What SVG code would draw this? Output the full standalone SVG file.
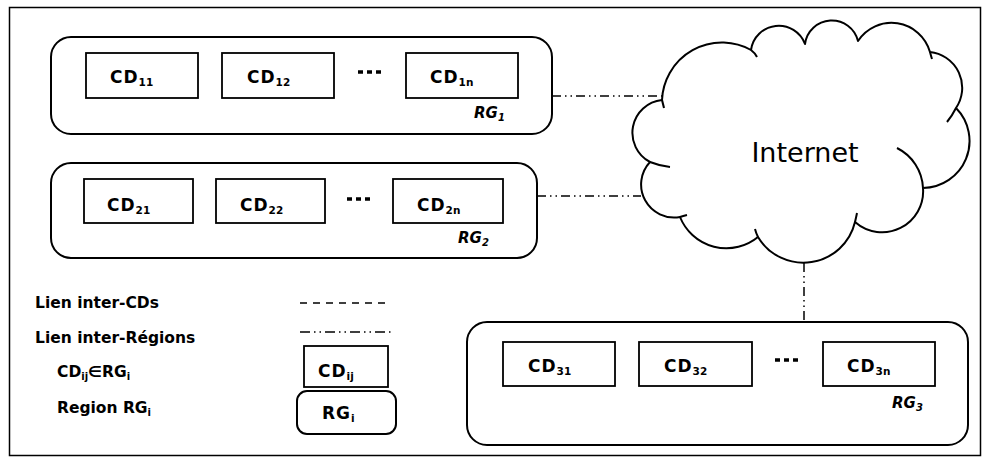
<svg xmlns="http://www.w3.org/2000/svg" width="987" height="464" viewBox="0 0 987 464">
<style>
.frame{fill:#fff;stroke:#000;stroke-width:1.5}
.rg{fill:#fff;stroke:#000;stroke-width:2}
.cd{fill:#fff;stroke:#000;stroke-width:1.8}
.t{font-family:"DejaVu Sans",Verdana,sans-serif;font-weight:bold;font-size:17px;fill:#000;letter-spacing:1px}
.sub{font-size:10.5px;letter-spacing:0}
.rgl{font-family:"DejaVu Sans",Verdana,sans-serif;font-weight:bold;font-style:italic;font-size:15px;fill:#000}
.lg{font-family:"DejaVu Sans",Verdana,sans-serif;font-weight:bold;font-size:15.5px;fill:#000}
.dash{fill:none;stroke:#000;stroke-width:1.5;stroke-dasharray:6 4}
.dd{fill:none;stroke:#000;stroke-width:1.5;stroke-dasharray:9 4 1.5 4 1.5 4}
.dots{fill:none;stroke:#000;stroke-width:3.5;stroke-dasharray:5 4}
.cloud{fill:#fff;stroke:#000;stroke-width:2;stroke-linejoin:round}
.tail{fill:none;stroke:#000;stroke-width:2}
</style>
<rect class="frame" x="9.5" y="7.5" width="971" height="448"/>

<g id="connectors">
  <path class="dd" d="M552 96 H665"/>
  <path class="dd" d="M537 196 H641"/>
  <path class="dd" d="M804 263 V322"/>
  <path class="dash" d="M135 98 V119 H454 V98 M272 98 V119"/>
  <path class="dash" d="M131 223 V245 H440 V223 M265 223 V245"/>
  <path class="dash" d="M552 386 V408 H871 V386 M689 386 V408"/>
</g>

<g id="internet">
  <path class="cloud" d="M662 100 A60 60 0 0 1 751 50 A28 28 0 0 1 805 44 A27 27 0 0 1 858 41 A40 40 0 0 1 930 52 A36 36 0 0 1 956 108 A47 47 0 0 1 923 188 A41 41 0 0 1 855 222 A53 53 0 0 1 758 237 A50 50 0 0 1 680 217 A33 33 0 0 1 650 162 A33 33 0 0 1 662 100 Z"/>
  <path class="tail" d="M897 148 A47 47 0 0 1 923 188"/>
  <path class="tail" d="M751 50 Q755 53 757 57"/>
  <path class="tail" d="M930 52 Q931 56 932 59"/>
  <path class="tail" d="M956 108 Q952 116 947 122"/>
  <path class="tail" d="M855 222 Q856 218 857 213"/>
  <path class="tail" d="M758 237 Q756 233 755 229"/>
  <path class="tail" d="M680 217 Q683 216 687 215"/>
  <path class="tail" d="M650 162 Q660 166 670 167"/>
  <path class="tail" d="M662 100 Q663 104 664 108"/>
  <text x="805" y="162" text-anchor="middle" font-family="'DejaVu Sans',Verdana,sans-serif" font-size="27" fill="#000">Internet</text>
</g>

<g id="rg1">
  <rect class="rg" x="51" y="37" width="501" height="97" rx="20"/>
  <text class="rgl" x="474" y="118">RG<tspan font-size="10" dy="3">1</tspan></text>
</g>
<g id="cd11"><rect class="cd" x="86" y="53" width="112" height="45"/><text class="t" x="110" y="83">CD<tspan class="sub" dy="3">11</tspan></text></g>
<g id="cd12"><rect class="cd" x="222" y="53" width="112" height="45"/><text class="t" x="247" y="83">CD<tspan class="sub" dy="3">12</tspan></text></g>
<path class="dots" d="M358 72 H381"/>
<g id="cd1n"><rect class="cd" x="406" y="53" width="112" height="45"/><text class="t" x="430" y="83">CD<tspan class="sub" dy="3">1n</tspan></text></g>

<g id="rg2">
  <rect class="rg" x="51" y="163" width="486" height="95" rx="20"/>
  <text class="rgl" x="458" y="243">RG<tspan font-size="10" dy="3">2</tspan></text>
</g>
<g id="cd21"><rect class="cd" x="84" y="179" width="109" height="44"/><text class="t" x="107" y="211">CD<tspan class="sub" dy="3">21</tspan></text></g>
<g id="cd22"><rect class="cd" x="216" y="179" width="109" height="44"/><text class="t" x="240" y="211">CD<tspan class="sub" dy="3">22</tspan></text></g>
<path class="dots" d="M347 199 H370"/>
<g id="cd2n"><rect class="cd" x="393" y="179" width="110" height="44"/><text class="t" x="417" y="211">CD<tspan class="sub" dy="3">2n</tspan></text></g>

<g id="rg3">
  <rect class="rg" x="467" y="322" width="501" height="123" rx="20"/>
  <text class="rgl" x="892" y="408">RG<tspan font-size="10" dy="3">3</tspan></text>
</g>
<g id="cd31"><rect class="cd" x="503" y="342" width="112" height="44"/><text class="t" x="528" y="372">CD<tspan class="sub" dy="3">31</tspan></text></g>
<g id="cd32"><rect class="cd" x="639" y="342" width="113" height="44"/><text class="t" x="664" y="372">CD<tspan class="sub" dy="3">32</tspan></text></g>
<path class="dots" d="M775 360 H798"/>
<g id="cd3n"><rect class="cd" x="823" y="342" width="112" height="44"/><text class="t" x="847" y="372">CD<tspan class="sub" dy="3">3n</tspan></text></g>

<g id="legend">
  <text class="lg" x="35" y="308">Lien inter-CDs</text>
  <path class="dash" d="M300 303 H390" style="stroke-dasharray:7 6"/>
  <text class="lg" x="35" y="343">Lien inter-Régions</text>
  <path class="dd" d="M300 332 H392" style="stroke-dasharray:10 4 1.5 4 1.5 4"/>
  <text class="lg" x="57" y="377">CD<tspan font-size="10" dy="3">ij</tspan><tspan dy="-3">∈RG</tspan><tspan font-size="10" dy="3">i</tspan></text>
  <rect class="cd" x="304" y="346" width="84" height="41"/>
  <text class="t" x="318" y="377">CD<tspan class="sub" dy="3">ij</tspan></text>
  <text class="lg" x="57" y="413">Region RG<tspan font-size="10" dy="3">i</tspan></text>
  <rect class="rg" x="297" y="391" width="99" height="43" rx="10"/>
  <text class="t" x="322" y="419">RG<tspan class="sub" dy="3">i</tspan></text>
</g>
</svg>
